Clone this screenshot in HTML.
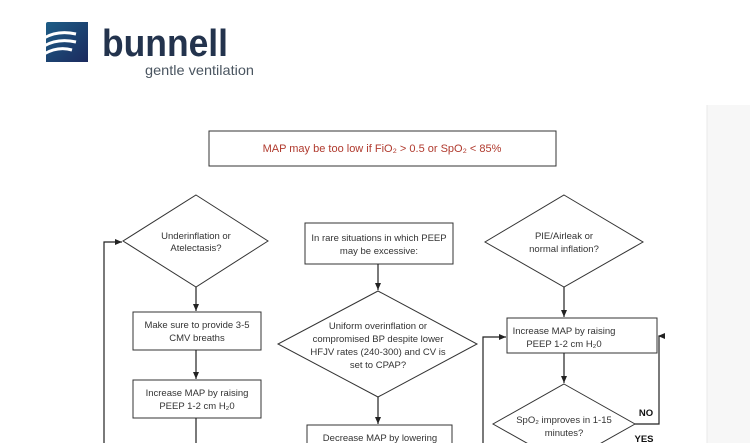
<!DOCTYPE html>
<html><head><style>
body{margin:0;width:750px;height:443px;overflow:hidden;background:#fff;font-family:"Liberation Sans",sans-serif}
</style></head><body>
<svg width="750" height="443" xmlns="http://www.w3.org/2000/svg" style="position:absolute;left:0;top:0">
<defs>
<linearGradient id="g" x1="0" y1="0" x2="1" y2="1"><stop offset="0" stop-color="#1d5d86"/><stop offset="1" stop-color="#1c2a5e"/></linearGradient>
<marker id="a" markerWidth="8" markerHeight="8" refX="7" refY="4" orient="auto" markerUnits="userSpaceOnUse"><path d="M0,1 L7,4 L0,7z" fill="#222"/></marker>
</defs>
<rect x="707" y="105" width="43" height="338" fill="#f7f7f7"/>
<line x1="707" y1="105" x2="707" y2="443" stroke="#e8e8e8"/>
<!-- logo -->
<path d="M46,24 Q46,22 48,22 L88,22 L88,62 L46,62 Z" fill="url(#g)"/>
<path d="M44,38 Q58,30 76,34 M44,46 Q58,38 76,42 M44,54 Q58,46 72,50" stroke="#fff" stroke-width="3" fill="none"/>
<text x="102" y="56" font-size="38" font-weight="bold" fill="#23334d" textLength="126" lengthAdjust="spacingAndGlyphs">bunnell</text>
<text x="145" y="75" font-size="14" fill="#4a5560" textLength="109" lengthAdjust="spacingAndGlyphs">gentle ventilation</text>
<g stroke="#333" stroke-width="1" fill="#fff">
<rect x="209" y="131" width="347" height="35"/>
<polygon points="196,195 268,241 196,287 123,241"/>
<rect x="133" y="312" width="128" height="38"/>
<rect x="133" y="380" width="128" height="38"/>
<rect x="305" y="223" width="148" height="41"/>
<polygon points="378,291 477,344 378,397 278,344"/>
<rect x="307" y="425" width="145" height="30"/>
<polygon points="564,195 643,242 564,287 485,242"/>
<rect x="507" y="318" width="150" height="35"/>
<polygon points="564,384 635,424 564,464 493,424"/>
</g>
<g stroke="#222" stroke-width="1.2" fill="none">
<line x1="196" y1="287" x2="196" y2="311" marker-end="url(#a)"/>
<line x1="196" y1="350" x2="196" y2="379" marker-end="url(#a)"/>
<line x1="196" y1="418" x2="196" y2="443"/>
<polyline points="104,443 104,242 122,242" marker-end="url(#a)"/>
<line x1="378" y1="264" x2="378" y2="290" marker-end="url(#a)"/>
<line x1="378" y1="397" x2="378" y2="424" marker-end="url(#a)"/>
<line x1="564" y1="287" x2="564" y2="317" marker-end="url(#a)"/>
<line x1="564" y1="353" x2="564" y2="383" marker-end="url(#a)"/>
<polyline points="483,443 483,337 506,337" marker-end="url(#a)"/>
<polyline points="635,424 659,424 659,336 664,336"/>
</g>
<path d="M658,336 L665,333 L665,339z" fill="#222"/>
<g font-size="9.5" fill="#333" text-anchor="middle">
<text x="382" y="152" font-size="11" fill="#b03a2e">MAP may be too low if FiO₂ &gt; 0.5 or SpO₂ &lt; 85%</text>
<text x="196" y="239">Underinflation or</text><text x="196" y="251">Atelectasis?</text>
<text x="197" y="328">Make sure to provide 3-5</text><text x="197" y="341">CMV breaths</text>
<text x="197" y="396">Increase MAP by raising</text><text x="197" y="409">PEEP 1-2 cm H₂0</text>
<text x="379" y="241">In rare situations in which PEEP</text><text x="379" y="254">may be excessive:</text>
<text x="378" y="329">Uniform overinflation or</text><text x="378" y="342">compromised BP despite lower</text><text x="378" y="355">HFJV rates (240-300) and CV is</text><text x="378" y="368">set to CPAP?</text>
<text x="380" y="441">Decrease MAP by lowering</text>
<text x="564" y="239">PIE/Airleak or</text><text x="564" y="252">normal inflation?</text>
<text x="564" y="334">Increase MAP by raising</text><text x="564" y="347">PEEP 1-2 cm H₂0</text>
<text x="564" y="423">SpO₂ improves in 1-15</text><text x="564" y="436">minutes?</text>
<text x="646" y="416" font-weight="bold" fill="#111">NO</text>
<text x="644" y="442" font-weight="bold" fill="#111">YES</text>
</g>
</svg>
</body></html>
